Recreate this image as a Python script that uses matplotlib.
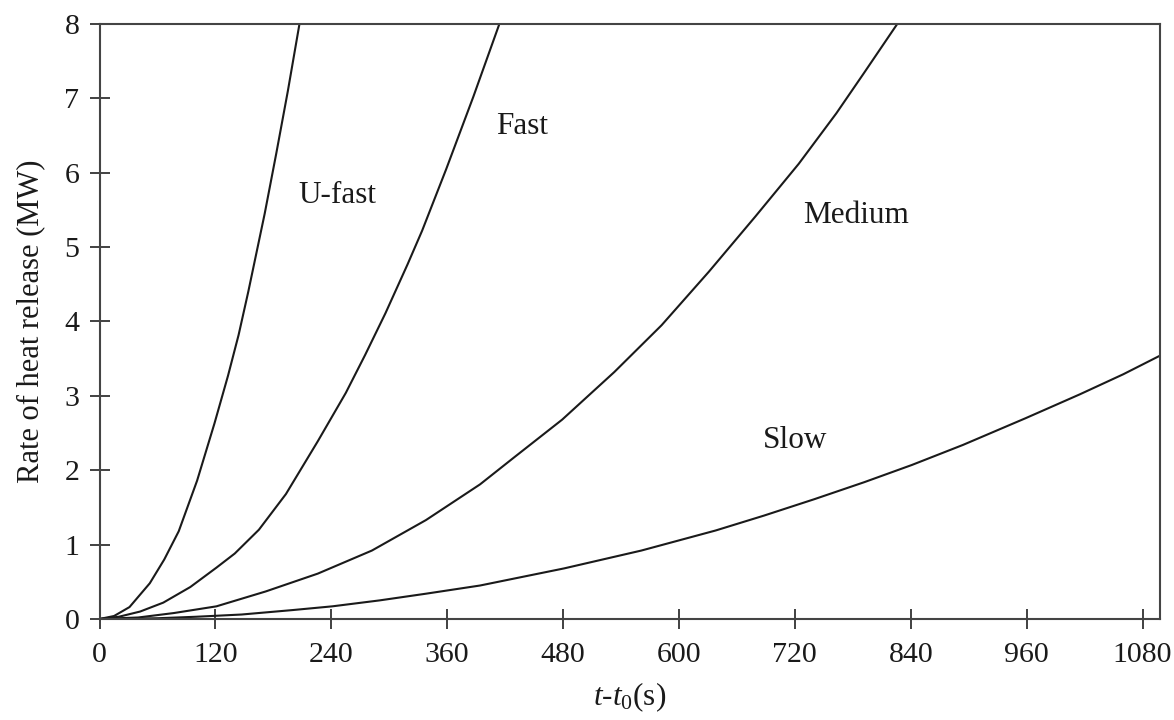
import matplotlib
matplotlib.use("Agg")
import matplotlib.pyplot as plt

# ---- data ----
ufast_t = [0, 15, 31, 52, 67, 82, 101, 119, 133, 144, 154, 171, 183, 195, 207]
ufast_q = [0, 0.04, 0.16, 0.48, 0.80, 1.18, 1.86, 2.63, 3.27, 3.82, 4.40, 5.45, 6.26, 7.10, 8.0]

fast_t = [0, 20, 42, 66, 94, 121, 140, 165, 193, 226, 255, 275, 296, 319, 334, 359, 387, 414]
fast_q = [0, 0.03, 0.10, 0.22, 0.43, 0.69, 0.88, 1.20, 1.68, 2.39, 3.04, 3.55, 4.11, 4.77, 5.22, 6.05, 7.02, 8.0]

medium_t = [0, 40, 77, 121, 172, 226, 282, 338, 394, 429, 479, 533, 582, 631, 679, 724, 763, 791, 826]
medium_q = [0, 0.02, 0.08, 0.17, 0.37, 0.61, 0.92, 1.33, 1.81, 2.17, 2.68, 3.32, 3.95, 4.67, 5.41, 6.12, 6.80, 7.33, 8.0]

slow_t = [0, 60, 100, 147, 200, 241, 290, 338, 394, 428, 481, 561, 638, 688, 740, 792, 841, 894, 959, 1015, 1060, 1098]
slow_q = [0, 0.01, 0.03, 0.06, 0.12, 0.17, 0.25, 0.34, 0.45, 0.54, 0.68, 0.92, 1.19, 1.39, 1.61, 1.84, 2.07, 2.34, 2.70, 3.02, 3.29, 3.54]

labels = ["U-fast", "Fast", "Medium", "Slow"]
label_t = [206, 411, 729, 687]
label_q = [5.70, 6.62, 5.43, 2.40]

xticks = [0, 120, 240, 360, 480, 600, 720, 840, 960, 1080]
yticks = [0, 1, 2, 3, 4, 5, 6, 7, 8]

plt.rcParams['font.family'] = ['Liberation Serif', 'DejaVu Serif']
plt.rcParams['mathtext.fontset'] = 'custom'
plt.rcParams['mathtext.rm'] = 'Liberation Serif'
plt.rcParams['mathtext.it'] = 'Liberation Serif:italic'

fig = plt.figure(figsize=(11.74, 7.2), dpi=100)
ax = fig.add_axes([0.0848, 0.1403, 0.988 - 0.0848, 0.9667 - 0.1403])

lc = '#1a1a1a'
for t, q in [(ufast_t, ufast_q), (fast_t, fast_q), (medium_t, medium_q), (slow_t, slow_q)]:
    ax.plot(t, q, color=lc, lw=1.5, clip_on=True)

for lab, tx, ty in zip(labels, label_t, label_q):
    ax.text(tx, ty, lab, fontsize=22.5, ha='left', va='center', color='#1a1a1a')

ax.set_xlim(0, 1098)
ax.set_ylim(0, 8)
ax.set_xticks(xticks)
ax.set_yticks(yticks)
ax.tick_params(axis='both', direction='inout', length=15, width=1.3, colors='#333333',
               labelsize=21.5, labelcolor='#1a1a1a')
ax.tick_params(axis='x', pad=9)
ax.tick_params(axis='y', pad=7)
for s in ax.spines.values():
    s.set_linewidth(1.5)
    s.set_color('#444444')

ax.set_xlabel(r'$t$-$t_{\mathrm{0}}$(s)', fontsize=22.5, labelpad=9, color='#1a1a1a')
ax.set_ylabel('Rate of heat release (MW)', fontsize=22, labelpad=14, color='#1a1a1a')

fig.savefig('out.png', dpi=100)
